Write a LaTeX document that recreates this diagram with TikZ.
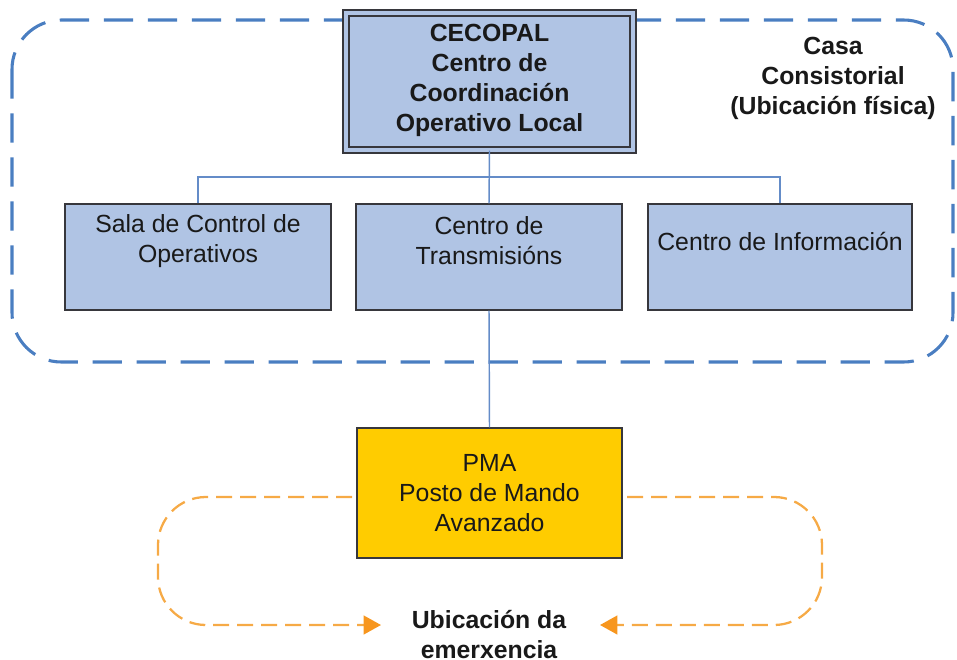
\documentclass[tikz,border=0pt]{standalone}
\usepackage{fontspec}
\setmainfont{Liberation Sans}
\usetikzlibrary{arrows.meta}
\definecolor{boxfill}{RGB}{176,196,228}
\definecolor{boxline}{RGB}{55,55,60}
\definecolor{pmafill}{RGB}{255,204,0}
\definecolor{bluedash}{RGB}{74,126,193}
\definecolor{conn}{RGB}{100,140,200}
\definecolor{orangedash}{RGB}{246,170,70}
\definecolor{orangetip}{RGB}{247,150,30}
\definecolor{txtcol}{RGB}{25,25,25}
\begin{document}
\begin{tikzpicture}[x=0.75pt,y=-0.75pt,
  every node/.style={font=\fontsize{18.6}{22.5}\selectfont, text=txtcol, align=center, inner sep=0pt},
  box/.style={draw=boxline, line width=1.1pt, fill=boxfill, minimum width=199.5pt, minimum height=79.5pt},
  topbox/.style={draw=boxline, line width=1.1pt, double=boxfill, double distance=3.2pt, fill=boxfill, minimum width=215.25pt, minimum height=102.75pt},
  pmabox/.style={draw=boxline, line width=1.1pt, fill=pmafill, minimum width=198.75pt, minimum height=97.5pt},
  boldtxt/.style={font=\fontsize{18.6}{22.5}\selectfont\bfseries},
  conline/.style={draw=conn, line width=1.1pt},
  bluezone/.style={draw=bluedash, line width=2.3pt, dash pattern=on 22pt off 11pt, rounded corners=37pt},
  orangeloop/.style={draw=orangedash, line width=1.7pt, dash pattern=on 12pt off 6pt, rounded corners=36pt,
    -{Triangle[length=13pt,width=14pt,fill=orangetip,color=orangetip]}}
]
\useasboundingbox (0,0) rectangle (957,660);

% blue dashed zone
\draw[bluezone] (12,20) rectangle (953,362);

% nodes
\node[topbox] (cecopal) at (489.5,81.5) {};
\node[boldtxt] (cecopaltxt) at (489.5,80.5) {CECOPAL\\Centro de\\Coordinación\\Operativo Local};

\node[box] (sala) at (198,257) {};
\node (salatxt) at (198,241) {Sala de Control de\\Operativos};
\node[box] (trans) at (489,257) {};
\node (transtxt) at (489,241) {Centro de\\Transmisións};
\node[box, minimum width=198pt] (info) at (780,257) {};
\node (infotxt) at (780,241) {Centro de Información};

\node[boldtxt] (casa) at (833,78) {Casa\\Consistorial\\(Ubicación física)};

% connectors
\coordinate (bus) at (489,177);
\draw[conline] (cecopal.south) -- (trans.north);
\draw[conline] (sala.north) |- (bus) -| (info.north);

% orange loops
\coordinate (lstart) at (352,497);
\coordinate (lcorner) at (158,625);
\coordinate (ltip) at (381,625);
\coordinate (rstart) at (627,497);
\coordinate (rcorner) at (822,625);
\coordinate (rtip) at (600,625);
\draw[orangeloop] (lstart) -| (lcorner) -- (ltip);
\draw[orangeloop] (rstart) -| (rcorner) -- (rtip);

\node[pmabox] (pma) at (489.5,493) {};
\node (pmatxt) at (489.5,493) {PMA\\Posto de Mando\\Avanzado};
\draw[conline] (trans.south) -- (pma.north);

\node[boldtxt] (ubic) at (489,635) {Ubicación da\\emerxencia};
\end{tikzpicture}
\end{document}
